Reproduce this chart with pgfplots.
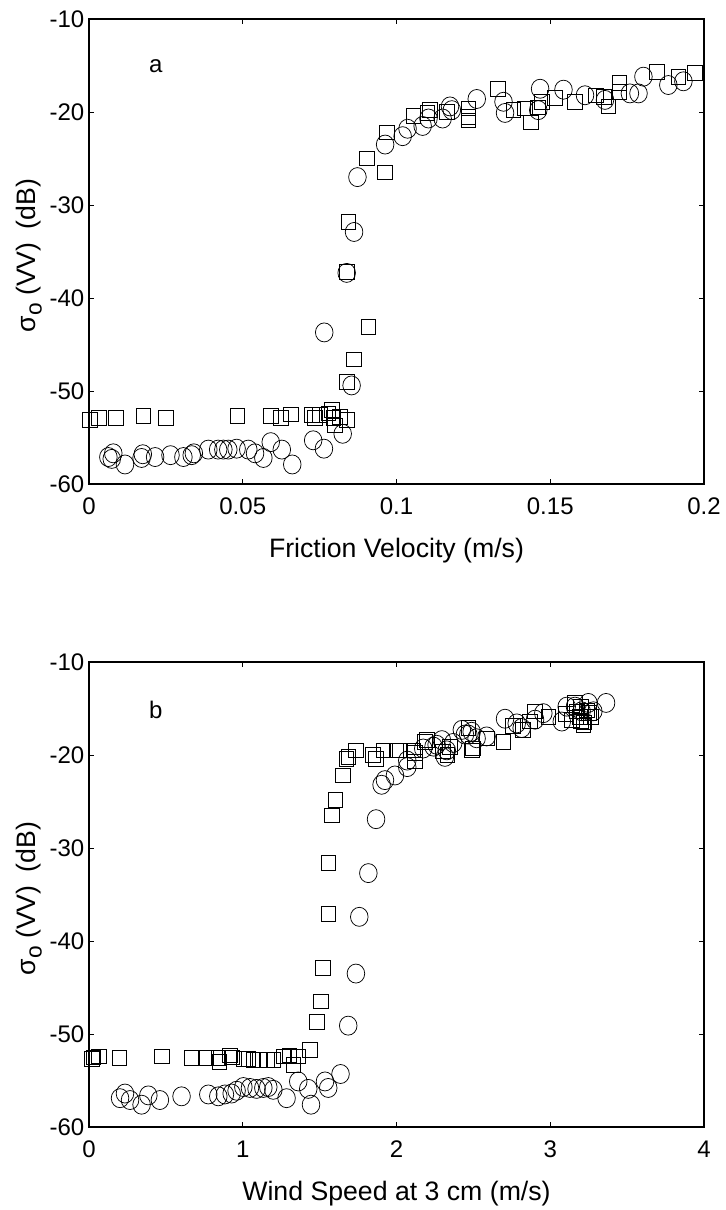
\documentclass[border=0pt]{standalone}
\usepackage{fontspec}
\setmainfont{Liberation Sans}
\usepackage{pgfplots}
\pgfplotsset{compat=1.18}
\pgfplotsset{myax/.style={
  scale only axis, width=461.25pt, height=348.75pt,
  ymin=-60, ymax=-10, ytick={-60,-50,-40,-30,-20,-10},
  yticklabels={-60,-50,-40,-30,-20,-10},
  tick align=inside, xtick pos=both, ytick pos=both,
  major tick length=3.75pt,
  axis line style={line width=0.9pt},
  every tick/.style={black, line width=0.6pt},
  tick label style={font=\fontsize{18}{20}\selectfont},
  xticklabel style={yshift=-7pt},
  label style={font=\fontsize{20}{24}\selectfont},
  xlabel style={at={(axis description cs:0.5,-0.1441)}, anchor=center},
  ylabel style={at={(axis description cs:-0.0976,0.4914)}, anchor=center},
  ylabel={σ\raisebox{-0.45ex}{\fontsize{17}{17}\selectfont o} (VV)\enspace (dB)},
  clip=false,
},
sq/.style={only marks, mark=square, mark size=5.5pt, black, mark options={line width=0.55pt}},
ci/.style={only marks, mark=o, mark size=6.6pt, black, mark options={line width=0.55pt, yscale=1.08}},
}
\begin{document}
\begin{tikzpicture}
\begin{axis}[myax, name=a, at={(0,0)}, anchor=north west,
  xmin=0, xmax=0.2, xtick={0,0.05,0.1,0.15,0.2},
  xticklabels={0,0.05,0.1,0.15,0.2},
  xlabel={Friction Velocity (m/s)}]
\addplot[sq] table {
0.0003 -53.1
0.0033 -52.9
0.0087 -52.9
0.0177 -52.7
0.0249 -52.9
0.0483 -52.7
0.0591 -52.7
0.0624 -52.9
0.0656 -52.5
0.0724 -52.6
0.0735 -52.9
0.0751 -52.6
0.0778 -52.4
0.0789 -52.0
0.0795 -52.9
0.0800 -53.7
0.0816 -52.8
0.0838 -53.1
0.0838 -49.0
0.0862 -46.6
0.0908 -43.1
0.0838 -37.2
0.0843 -31.8
0.0963 -26.5
0.0903 -25.0
0.0968 -22.2
0.1055 -20.4
0.1100 -20.1
0.1109 -19.8
0.1163 -20.0
0.1234 -19.6
0.1234 -20.5
0.1234 -20.9
0.1329 -17.5
0.1380 -19.8
0.1418 -19.6
0.1436 -21.1
0.1460 -19.5
0.1472 -18.9
0.1516 -18.5
0.1580 -18.9
0.1649 -18.2
0.1675 -18.4
0.1689 -19.4
0.1725 -16.9
0.1725 -17.8
0.1846 -15.7
0.1917 -16.2
0.1970 -15.8
};
\addplot[ci] table {
0.0063 -57.1
0.0074 -57.3
0.0079 -56.7
0.0117 -57.9
0.0171 -57.2
0.0175 -56.8
0.0215 -57.1
0.0265 -56.9
0.0307 -57.1
0.0334 -56.9
0.0341 -56.7
0.0388 -56.3
0.0420 -56.3
0.0437 -56.3
0.0453 -56.3
0.0480 -56.2
0.0518 -56.3
0.0540 -56.7
0.0567 -57.2
0.0591 -55.5
0.0627 -56.3
0.0661 -57.9
0.0729 -55.3
0.0764 -56.2
0.0825 -54.6
0.0854 -49.4
0.0765 -43.7
0.0838 -37.3
0.0862 -32.9
0.0873 -27.0
0.0963 -23.5
0.1020 -22.6
0.1036 -21.8
0.1085 -21.5
0.1104 -20.7
0.1150 -20.7
0.1174 -19.4
0.1180 -19.8
0.1261 -18.6
0.1348 -18.9
0.1353 -20.1
0.1461 -19.8
0.1467 -17.5
0.1543 -17.6
0.1613 -18.2
0.1678 -18.7
0.1759 -18.0
0.1787 -18.0
0.1803 -16.2
0.1884 -17.1
0.1933 -16.7
};
\node[font=\fontsize{18}{20}\selectfont] at (axis cs:0.0217,-15.1) {a};
\end{axis}
\begin{axis}[myax, name=b, at={(0,-482.25pt)}, anchor=north west,
  xmin=0, xmax=4, xtick={0,1,2,3,4},
  xticklabels={0,1,2,3,4},
  xlabel={Wind Speed at 3 cm (m/s)}]
\addplot[sq] table {
0.017 -52.7
0.028 -52.5
0.065 -52.4
0.197 -52.6
0.473 -52.4
0.668 -52.6
0.761 -52.6
0.841 -52.6
0.847 -53.0
0.917 -52.3
0.930 -52.5
1.004 -52.7
1.036 -52.7
1.069 -52.8
1.112 -52.8
1.155 -52.8
1.199 -52.8
1.264 -52.4
1.303 -52.3
1.329 -53.3
1.361 -52.4
1.437 -51.7
1.480 -48.7
1.507 -46.5
1.519 -42.9
1.556 -37.1
1.556 -31.6
1.578 -26.5
1.603 -24.8
1.649 -22.2
1.675 -20.4
1.686 -20.2
1.736 -19.5
1.845 -20.0
1.867 -20.4
1.914 -19.5
2.000 -19.5
2.023 -19.5
2.109 -19.5
2.120 -20.7
2.120 -19.8
2.185 -18.6
2.196 -18.4
2.300 -19.6
2.330 -20.0
2.348 -19.1
2.467 -17.1
2.490 -19.5
2.495 -19.3
2.586 -18.2
2.694 -18.6
2.759 -16.9
2.824 -17.3
2.868 -16.4
2.901 -15.3
2.987 -15.9
3.100 -15.6
3.139 -16.2
3.161 -14.4
3.172 -15.3
3.193 -15.9
3.200 -14.8
3.200 -16.3
3.215 -16.8
3.220 -16.5
3.236 -15.2
3.250 -15.5
3.262 -15.9
};
\addplot[ci] table {
0.202 -56.9
0.234 -56.4
0.267 -57.1
0.342 -57.6
0.386 -56.6
0.461 -57.1
0.602 -56.7
0.776 -56.5
0.841 -56.7
0.884 -56.5
0.928 -56.4
0.960 -56.1
1.004 -55.7
1.047 -55.8
1.090 -55.9
1.134 -55.8
1.166 -55.7
1.199 -56.0
1.285 -56.9
1.361 -55.1
1.426 -55.9
1.444 -57.6
1.535 -55.1
1.556 -55.8
1.636 -54.3
1.686 -49.1
1.736 -43.5
1.758 -37.4
1.817 -32.7
1.867 -26.9
1.903 -23.2
1.925 -22.7
1.990 -22.2
2.070 -21.3
2.070 -20.6
2.174 -19.3
2.241 -19.1
2.261 -18.9
2.295 -18.4
2.315 -20.2
2.327 -19.5
2.369 -18.7
2.425 -17.3
2.445 -17.8
2.467 -17.8
2.489 -17.5
2.521 -18.2
2.586 -18.0
2.706 -16.1
2.782 -16.6
2.814 -17.1
2.901 -16.2
2.955 -15.5
3.075 -16.4
3.107 -14.8
3.161 -14.8
3.204 -15.3
3.248 -14.4
3.280 -15.3
3.363 -14.4
};
\node[font=\fontsize{18}{20}\selectfont] at (axis cs:0.434,-15.1) {b};
\end{axis}
\pgfresetboundingbox
\path[use as bounding box] (-66.75pt,14.25pt) rectangle (477pt,-893.25pt);
\end{tikzpicture}
\end{document}
